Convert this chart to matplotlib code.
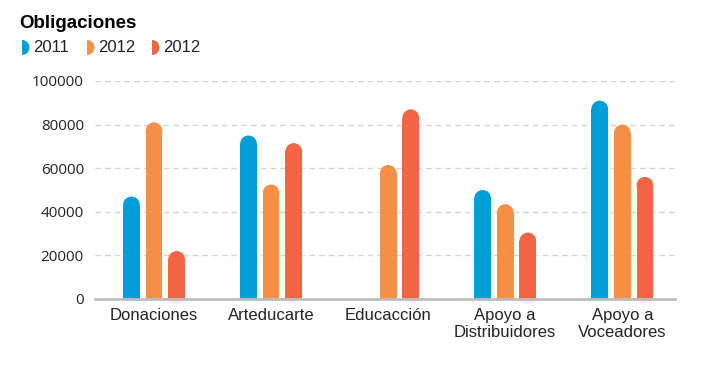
import matplotlib
matplotlib.use("Agg")
import matplotlib.pyplot as plt
from matplotlib.patches import Rectangle, Ellipse, Wedge
import numpy as np

categories = ["Donaciones", "Arteducarte", "Educacción", "Apoyo a\nDistribuidores", "Apoyo a\nVoceadores"]
series_names = ["2011", "2012", "2012"]
s2011 = [47000, 75000, 0, 50000, 91000]
s2012a = [81000, 52500, 61500, 43500, 80000]
s2012b = [22000, 71500, 87000, 30500, 56000]
yticks = [0, 20000, 40000, 60000, 80000, 100000]
colors = ["#009ED9", "#F78F45", "#F26645"]

W, H = 724, 369
fig = plt.figure(figsize=(W / 100, H / 100), dpi=100)
ax = fig.add_axes([95 / W, 1 - 299 / H, (675 - 95) / W, (299 - 81) / H])

ax.set_ylim(0, 100000)
ax.set_xlim(-0.504, 4.45)
fig.canvas.draw()

# pixel conversions
px_per_x = (ax.transData.transform((1, 0))[0] - ax.transData.transform((0, 0))[0])
px_per_y = (ax.transData.transform((0, 1))[1] - ax.transData.transform((0, 0))[1])
bar_w = 16.7 / px_per_x
step = 22.6 / px_per_x
r_y = (16.7 / 2) / px_per_y

all_series = [s2011, s2012a, s2012b]
for si, vals in enumerate(all_series):
    for ci, v in enumerate(vals):
        if v <= 0:
            continue
        xc = ci + (si - 1) * step
        h = max(v - r_y, 0)
        ax.add_patch(Rectangle((xc - bar_w / 2, 0), bar_w, h, facecolor=colors[si],
                               edgecolor="none", zorder=3))
        ax.add_patch(Ellipse((xc, h), bar_w, 2 * r_y, facecolor=colors[si],
                             edgecolor="none", zorder=3))

ax.set_yticks(yticks)
ax.set_yticklabels([str(t) for t in yticks], fontfamily="Open Sans", fontsize=11, color="#222222")
ax.set_xticks(range(len(categories)))
ax.set_xticklabels(categories, fontfamily="Liberation Sans", fontsize=12, color="#222222",
                   linespacing=1.15)
ax.tick_params(axis="y", length=0, pad=8)
ax.tick_params(axis="x", length=0, pad=6.5)

for t in yticks[1:]:
    ax.axhline(t, color="#d4d4d4", lw=1, ls=(0, (4, 3)), zorder=1)
for s in ["top", "right", "left"]:
    ax.spines[s].set_visible(False)
ax.spines["bottom"].set_color("#bdbdbd")
ax.spines["bottom"].set_linewidth(2)
ax.spines["bottom"].set_zorder(4)

# title
fig.text(19 / W, 1 - 24 / H, "Obligaciones", fontfamily="Liberation Sans", fontweight="bold",
         fontsize=13.5, va="center", ha="left", color="#000000")

# legend
leg_x = [22, 87, 152]
for i, name in enumerate(series_names):
    cx = leg_x[i] / 100
    cy = (H - 47.5) / 100
    fig.patches.append(Wedge((cx, cy), 0.075, -90, 90, facecolor=colors[i], edgecolor="none",
                             transform=fig.dpi_scale_trans))
    fig.text((leg_x[i] + 11) / W, 1 - 47.5 / H, name, fontfamily="Liberation Sans", fontsize=12,
             va="center", ha="left", color="#222222")

fig.savefig("out.png", dpi=100)
